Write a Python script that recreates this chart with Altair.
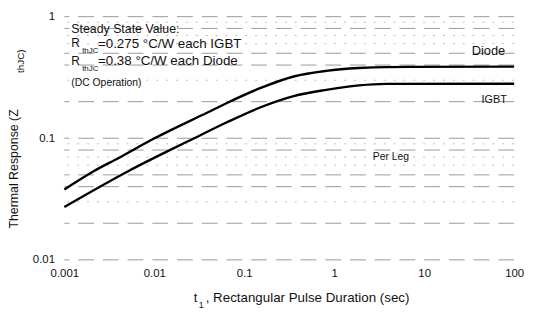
import altair as alt
import pandas as pd

# ---- data ----
diode_t = [0.001, 0.00214, 0.00402, 0.0098, 0.039, 0.065, 0.15, 0.354, 0.816, 1.88, 3.73, 100]
diode_z = [0.0379, 0.0538, 0.0689, 0.099, 0.163, 0.196, 0.258, 0.322, 0.358, 0.378, 0.385, 0.388]
igbt_t = [0.001, 0.00518, 0.027, 0.065, 0.15, 0.354, 0.816, 1.88, 3.73, 100]
igbt_z = [0.0272, 0.0538, 0.099, 0.136, 0.179, 0.222, 0.250, 0.272, 0.280, 0.281]

x_ticks = [0.001, 0.01, 0.1, 1, 10, 100]
y_ticks = [0.01, 0.1, 1]
grid_dash = [0.01, 0.02, 0.04, 0.05, 0.08, 0.1, 0.2, 0.4, 0.5, 0.8, 1]
grid_dot = [0.03, 0.06, 0.07, 0.09, 0.3, 0.6, 0.7, 0.9]

FONT = "Liberation Sans"

curves = pd.DataFrame({
    "t": diode_t + igbt_t,
    "z": diode_z + igbt_z,
    "s": ["Diode"] * len(diode_t) + ["IGBT"] * len(igbt_t),
})

xs = alt.Scale(type="log", domain=[0.001, 100])
ys = alt.Scale(type="log", domain=[0.01, 1])

x_axis = alt.Axis(values=x_ticks, format="~g", domain=False, ticks=False, grid=False,
                  labelFont=FONT, labelFontSize=11.5, labelColor="#111",
                  labelPadding=8, labelFlush=False, title=None)
y_axis = alt.Axis(values=y_ticks, format="~g", domain=False, ticks=False, grid=False,
                  labelFont=FONT, labelFontSize=11.5, labelColor="#111",
                  labelPadding=10, labelFlush=False, title=None)

grid1 = alt.Chart(pd.DataFrame({"v": grid_dash})).mark_rule(
    color="#9a9a9a", strokeWidth=1, strokeDash=[16, 9]
).encode(y=alt.Y("v:Q", scale=ys, axis=y_axis))

grid2 = alt.Chart(pd.DataFrame({"v": grid_dot})).mark_rule(
    color="#bdbdbd", strokeWidth=1, strokeDash=[2, 8]
).encode(y=alt.Y("v:Q", scale=ys))

lines = alt.Chart(curves).mark_line(
    color="#000", strokeWidth=2.4, interpolate="monotone"
).encode(
    x=alt.X("t:Q", scale=xs, axis=x_axis),
    y=alt.Y("z:Q", scale=ys),
    detail="s:N",
)

def txt(s, x, y, size=12, align="left", angle=0):
    return alt.Chart(pd.DataFrame({"s": [s]})).mark_text(
        font=FONT, fontSize=size, color="#111", align=align, baseline="middle", angle=angle
    ).encode(text="s:N", x=alt.value(x), y=alt.value(y))

texts = [
    txt("Steady State Value:", 7, 13, size=12.5),
    txt("R", 7, 27, size=12),
    txt("thJC", 18, 35, size=8),
    txt("=0.275 °C/W each IGBT", 34, 28, size=13.5),
    txt("R", 7, 45, size=12),
    txt("thJC", 18, 53, size=8),
    txt("=0.38 °C/W each Diode", 34, 45, size=13.5),
    txt("(DC Operation)", 7, 67, size=10.5),
    txt("Diode", 412, 35, size=13),
    txt("IGBT", 422, 84, size=11),
    txt("Per Leg", 312, 142, size=10.5),
    txt("Thermal Response (Z", -51, 154, size=12.5, align="center", angle=270),
    txt("thJC)", -44, 45, size=10, align="center", angle=270),
    txt("t", 131, 285, size=13),
    txt("1", 136, 292, size=9),
    txt(", Rectangular Pulse Duration (sec)", 143, 285, size=13.5),
]

chart = alt.layer(grid2, grid1, lines, *texts).properties(
    width=455, height=246,
    autosize=alt.AutoSizeParams(type="none"),
    padding={"left": 57, "top": 7, "right": 12, "bottom": 52},
    background="white",
).configure_view(stroke=None)

chart.save("out.html", embed_options={"renderer": "svg", "actions": False})
